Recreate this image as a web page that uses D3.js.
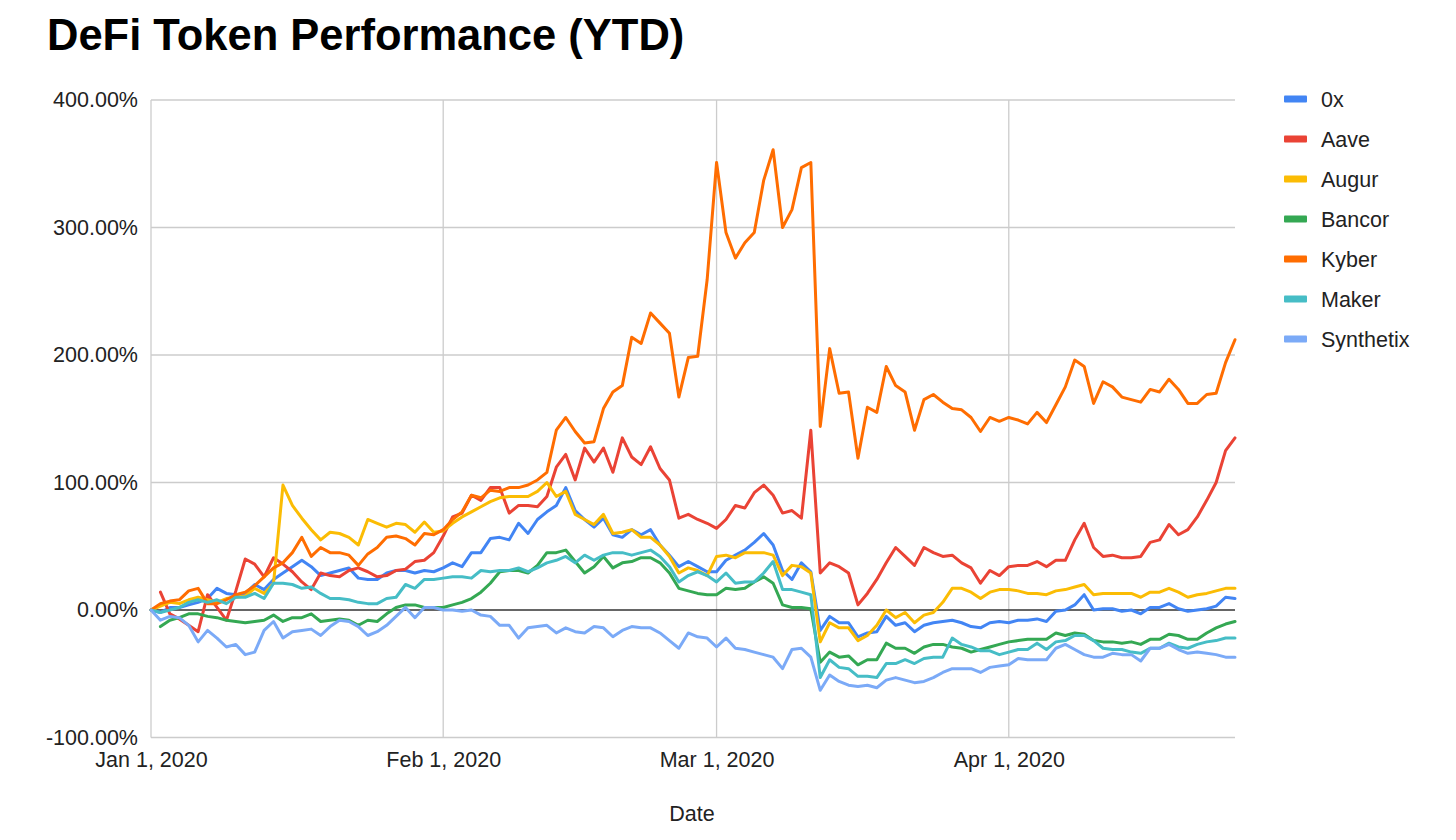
<!DOCTYPE html>
<html>
<head>
<meta charset="utf-8">
<script src="https://cdn.jsdelivr.net/npm/d3@7"></script>
<style>
  html, body { margin: 0; padding: 0; background: #fff; }
  svg { display: block; font-family: "Liberation Sans", Arial, sans-serif; }
</style>
</head>
<body>
<svg id="chart" width="1456" height="840"></svg>
<script>
// ---------------- DATA ----------------
const title = "DeFi Token Performance (YTD)";
const xAxisTitle = "Date";
const startDate = "2020-01-01";
const endDate = "2020-04-25";
const seriesNames = ["0x", "Aave", "Augur", "Bancor", "Kyber", "Maker", "Synthetix"];
const seriesColors = ["#4285F4", "#EA4335", "#FBBC04", "#34A853", "#FF6D01", "#46BDC6", "#7BAAF7"];
const yTicks = [-100, 0, 100, 200, 300, 400];
const xTickDates = ["2020-01-01", "2020-02-01", "2020-03-01", "2020-04-01"];
const xTickLabels = ["Jan 1, 2020", "Feb 1, 2020", "Mar 1, 2020", "Apr 1, 2020"];

// daily % change since Jan 1 (null = no data)
const zeroX = [0,-2,2,2,4,6,9,17,13,12, 13,20,16,24,29,34,39,34,27,29, 31,33,25,24,24,29,31,31,29,31,
  30,33,37,34,45,45,56,57,55,68, 60,71,77,82,96,78,71,65,72,59, 57,63,59,63,51,43,34,38,34,30,
  30,39,43,47,53,60,51,31,24,37, 30,-16,-5,-10,-10,-21,-18,-17,-5,-12, -10,-17,-12,-10,-9,-8,-10,-13,-14,-10,
  -9,-10,-8,-8,-7,-9,-1,0,4,12, 0,1,1,-1,0,-3,2,2,5,1, -1,0,1,3,10,9];
const aave = [null,14,-3,-7,-12,-17,12,2,-8,15, 40,36,26,41,36,30,22,16,29,27, 26,31,33,30,26,27,31,32,38,39,
  45,58,73,76,90,86,96,96,76,82, 82,81,89,112,122,102,127,116,127,108, 135,120,114,128,111,102,72,75,71,68,
  64,71,82,80,92,98,90,76,78,72, 141,29,37,34,29,4,13,24,37,49, 42,35,49,45,42,43,37,33,21,31,
  27,34,35,35,38,34,39,39,55,68, 49,42,43,41,41,42,53,55,67,59, 63,73,86,100,125,135];
const augur = [0,3,6,5,8,10,8,6,9,10, 11,17,13,21,98,82,72,63,55,61, 60,57,51,71,68,65,68,67,61,69,
  61,62,68,73,77,81,85,88,89,89, 89,93,100,89,93,75,71,67,75,60, 61,63,57,57,51,42,29,33,31,27,
  42,43,41,45,45,45,43,27,35,34, 29,-25,-10,-14,-14,-24,-20,-12,0,-6, -2,-10,-4,-2,6,17,17,14,9,14,
  16,16,15,13,13,12,15,16,18,20, 12,13,13,13,13,10,14,14,17,14, 10,12,13,15,17,17];
const bancor = [null,-13,-8,-6,-3,-3,-5,-6,-8,-9, -10,-9,-8,-4,-9,-6,-6,-3,-9,-8, -7,-8,-12,-8,-9,-3,2,4,4,2,
  2,2,4,6,9,14,21,30,31,31, 29,35,45,45,47,38,29,34,42,33, 37,38,41,41,37,29,17,15,13,12,
  12,17,16,17,22,26,21,4,2,2, 1,-41,-33,-37,-36,-43,-39,-39,-26,-30, -30,-34,-29,-27,-27,-29,-30,-33,-31,-29,
  -27,-25,-24,-23,-23,-23,-18,-20,-18,-19, -24,-25,-25,-26,-25,-27,-23,-23,-19,-20, -23,-23,-18,-14,-11,-9];
const kyber = [0,5,7,8,15,17,5,5,8,12, 14,19,26,33,37,45,57,42,49,45, 45,43,35,44,49,57,58,56,51,60,
  59,63,71,77,90,88,94,93,96,96, 98,102,108,141,151,140,131,132,158,171, 176,214,209,233,225,217,167,198,199,259,
  351,296,276,288,296,337,361,300,314,347, 351,144,205,170,171,119,159,155,191,176, 171,141,165,169,163,158,157,151,140,151,
  148,151,149,146,155,147,161,175,196,191, 162,179,175,167,165,163,173,171,181,173, 162,162,169,170,194,212];
const maker = [0,-2,0,2,6,8,6,8,5,10, 10,13,9,21,21,20,17,18,13,9, 9,8,6,5,5,9,10,20,17,24,
  24,25,26,26,25,31,30,31,31,33, 30,33,37,39,42,37,43,39,43,45, 45,43,45,47,42,34,22,27,30,27,
  22,29,21,22,22,29,38,16,16,14, 12,-53,-39,-45,-46,-52,-52,-53,-42,-42, -39,-42,-38,-37,-37,-22,-27,-29,-32,-32,
  -35,-33,-31,-31,-26,-31,-25,-24,-20,-20, -24,-30,-31,-31,-33,-34,-30,-30,-26,-29, -30,-27,-25,-24,-22,-22];
const synthetix = [0,-8,-5,-6,-12,-25,-16,-22,-29,-27, -35,-33,-16,-9,-22,-17,-16,-15,-20,-13, -8,-9,-13,-20,-17,-12,-5,2,-6,2,
  2,0,0,-1,0,-4,-5,-12,-12,-22, -14,-13,-12,-18,-14,-17,-18,-13,-14,-21, -16,-13,-14,-14,-18,-24,-30,-18,-21,-22,
  -29,-22,-30,-31,-33,-35,-37,-46,-31,-30, -37,-63,-51,-56,-59,-60,-59,-61,-55,-53, -55,-57,-56,-53,-49,-46,-46,-46,-49,-45,
  -44,-43,-38,-39,-39,-39,-30,-27,-31,-35, -37,-37,-34,-35,-35,-40,-30,-30,-27,-31, -34,-33,-34,-35,-37,-37];

const seriesValues = [zeroX, aave, augur, bancor, kyber, maker, synthetix];

// ---------------- CHART ----------------
const parse = d3.timeParse("%Y-%m-%d");
const dates = d3.timeDay.range(parse(startDate), d3.timeDay.offset(parse(endDate), 1));

const svg = d3.select("#chart");
const plot = { left: 151, right: 1235, top: 100, bottom: 737.5 };

const x = d3.scaleTime().domain([parse(startDate), parse(endDate)]).range([plot.left, plot.right]);
const y = d3.scaleLinear().domain([-100, 400]).range([plot.bottom, plot.top]);

const labelColor = "#222222";
const fontSize = 21.5;

// title
svg.append("text")
  .attr("x", 47).attr("y", 50)
  .attr("font-size", 43.5).attr("font-weight", "bold").attr("fill", "#000")
  .text(title);

// horizontal grid
svg.append("g").selectAll("line").data(yTicks.filter(t => t !== 0)).join("line")
  .attr("x1", plot.left).attr("x2", plot.right)
  .attr("y1", d => y(d)).attr("y2", d => y(d))
  .attr("stroke", "#cccccc").attr("stroke-width", 1.3);

// vertical grid (month starts)
svg.append("g").selectAll("line").data(xTickDates.map(parse)).join("line")
  .attr("x1", d => x(d)).attr("x2", d => x(d))
  .attr("y1", plot.top).attr("y2", plot.bottom)
  .attr("stroke", "#cccccc").attr("stroke-width", 1.3);

// zero baseline
svg.append("line")
  .attr("x1", plot.left).attr("x2", plot.right)
  .attr("y1", y(0)).attr("y2", y(0))
  .attr("stroke", "#333333").attr("stroke-width", 1.3);

// y axis labels
const yAxis = d3.axisLeft(y).tickValues(yTicks).tickSize(0).tickPadding(13)
  .tickFormat(d => d3.format(".2f")(d).replace("\u2212", "-") + "%");
const gy = svg.append("g").attr("transform", `translate(${plot.left},0)`).call(yAxis);
gy.select(".domain").remove();
gy.selectAll("text").attr("font-size", fontSize).attr("fill", labelColor)
  .attr("font-family", "Liberation Sans, Arial, sans-serif");

// x axis labels
const xAxis = d3.axisBottom(x).tickValues(xTickDates.map(parse)).tickSize(0).tickPadding(14)
  .tickFormat((d, i) => xTickLabels[i]);
const gx = svg.append("g").attr("transform", `translate(0,${plot.bottom})`).call(xAxis);
gx.select(".domain").remove();
gx.selectAll("text").attr("font-size", fontSize).attr("fill", labelColor)
  .attr("font-family", "Liberation Sans, Arial, sans-serif");

// lines
const line = d3.line()
  .defined(d => d.v !== null)
  .x(d => x(d.date))
  .y(d => y(d.v));

seriesNames.forEach((name, si) => {
  const pts = dates.map((dt, i) => ({ date: dt, v: seriesValues[si][i] }));
  svg.append("path")
    .datum(pts)
    .attr("d", line)
    .attr("fill", "none")
    .attr("stroke", seriesColors[si])
    .attr("stroke-width", 3)
    .attr("stroke-linejoin", "round")
    .attr("stroke-linecap", "round");
});

// x axis title
svg.append("text")
  .attr("x", 692).attr("y", 821)
  .attr("text-anchor", "middle")
  .attr("font-size", fontSize).attr("fill", labelColor)
  .text(xAxisTitle);

// legend
const legend = svg.append("g").attr("transform", "translate(1284,99)");
const items = legend.selectAll("g").data(seriesNames).join("g")
  .attr("transform", (d, i) => `translate(0,${i * 40})`);
items.append("rect")
  .attr("x", 0).attr("y", -3.5).attr("width", 23).attr("height", 7).attr("rx", 1)
  .attr("fill", (d, i) => seriesColors[i]);
items.append("text")
  .attr("x", 37).attr("y", 0).attr("dy", "0.36em")
  .attr("font-size", fontSize).attr("fill", labelColor)
  .text(d => d);
</script>
</body>
</html>
